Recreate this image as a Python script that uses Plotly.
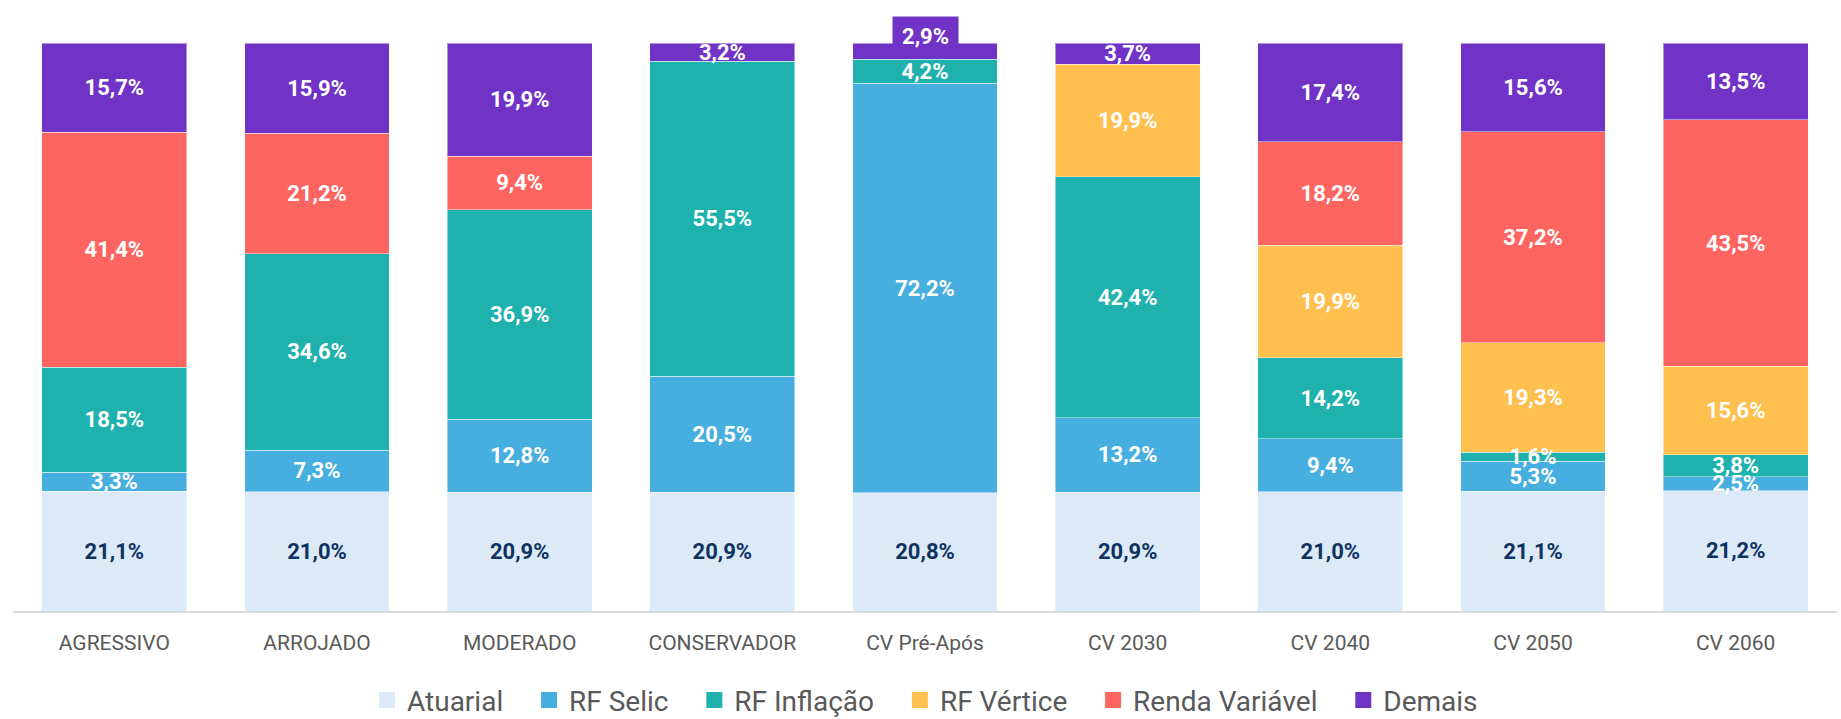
import plotly.graph_objects as go

categories = ["AGRESSIVO", "ARROJADO", "MODERADO", "CONSERVADOR", "CV Pré-Após",
              "CV 2030", "CV 2040", "CV 2050", "CV 2060"]

atuarial = [21.1, 21.0, 20.9, 20.9, 20.8, 20.9, 21.0, 21.1, 21.2]
rf_selic = [3.3, 7.3, 12.8, 20.5, 72.2, 13.2, 9.4, 5.3, 2.5]
rf_inflacao = [18.5, 34.6, 36.9, 55.5, 4.2, 42.4, 14.2, 1.6, 3.8]
rf_vertice = [None, None, None, None, None, 19.9, 19.9, 19.3, 15.6]
renda_variavel = [41.4, 21.2, 9.4, None, None, None, 18.2, 37.2, 43.5]
demais = [15.7, 15.9, 19.9, 3.2, 2.9, 3.7, 17.4, 15.6, 13.5]

series = [
    ("Atuarial", atuarial, "#DCE9F6", "#0F3360"),
    ("RF Selic", rf_selic, "#47AFDF", "#FFFFFF"),
    ("RF Inflação", rf_inflacao, "#1FB1AD", "#FFFFFF"),
    ("RF Vértice", rf_vertice, "#FFC050", "#FFFFFF"),
    ("Renda Variável", renda_variavel, "#FF6560", "#FFFFFF"),
    ("Demais", demais, "#7033C6", "#FFFFFF"),
]

# label of this point is drawn as a boxed callout above the bar
callout = ("Demais", "CV Pré-Após")

FONT = "Roboto, 'Liberation Sans', Arial, sans-serif"
PAD = "\u00a0" * 3  # extra spacing after legend entries


def fmt(v):
    return f"{v:.1f}%".replace(".", ",")


fig = go.Figure()
# filled bars (no text)
for i, (name, vals, color, tcolor) in enumerate(series):
    fig.add_trace(go.Bar(
        name=name, x=categories, y=vals,
        marker=dict(color=color, line=dict(color="rgba(255,255,255,0.45)", width=1)),
        showlegend=False, hoverinfo="skip",
    ))
    # legend entry with larger square swatch
    fig.add_trace(go.Scatter(
        name=name + (PAD if i < len(series) - 1 else ""), x=[None], y=[None], mode="markers",
        marker=dict(symbol="square", size=18, color=color),
        showlegend=True, hoverinfo="skip",
    ))

# transparent copy of the bars on overlaid axes, carrying the data labels on top
for name, vals, color, tcolor in series:
    texts = []
    for cat, v in zip(categories, vals):
        if v is None or (name, cat) == callout:
            texts.append("")
        else:
            texts.append(fmt(v))
    fig.add_trace(go.Bar(
        name=name, x=categories, y=vals, text=texts, xaxis="x2", yaxis="y2",
        textposition="inside", insidetextanchor="middle", textangle=0,
        constraintext="none",
        insidetextfont=dict(family=FONT, size=22, color=tcolor, weight="bold"),
        marker=dict(color="rgba(0,0,0,0)", line=dict(width=0)),
        showlegend=False, hoverinfo="skip",
    ))

# callout label
ci = categories.index(callout[1])
cvals = dict((n, v) for n, v, _, _ in series)[callout[0]]
fig.add_annotation(
    x=callout[1], y=100, yref="y", xref="x",
    text=f"<b>{fmt(cvals[ci])}</b>", showarrow=False,
    yanchor="middle", yshift=6.5,
    font=dict(family=FONT, size=22, color="#FFFFFF"),
    bgcolor="#7033C6", borderpad=7, width=51, height=25,
)

fig.update_layout(
    barmode="stack", barnorm="percent", bargap=0.285,
    width=1841, height=719,
    margin=dict(l=13, r=4, t=43, b=108, autoexpand=False),
    paper_bgcolor="white", plot_bgcolor="white",
    font=dict(family=FONT, color="#595959"),
    xaxis=dict(
        showline=True, linecolor="#D9D9D9", linewidth=2,
        tickfont=dict(family=FONT, size=21, color="#595959"),
        ticks="", ticklabelstandoff=12, showgrid=False,
    ),
    yaxis=dict(range=[0, 100], visible=False, showgrid=False, zeroline=False),
    xaxis2=dict(overlaying="x", matches="x", visible=False, showgrid=False),
    yaxis2=dict(overlaying="y", range=[0, 100], visible=False, showgrid=False, zeroline=False),
    legend=dict(
        orientation="h", x=0.5, xanchor="center", y=-0.157, yanchor="middle",
        font=dict(family=FONT, size=28, color="#595959"),
        itemsizing="trace", traceorder="normal",
    ),
)

fig.write_html("out.html")
